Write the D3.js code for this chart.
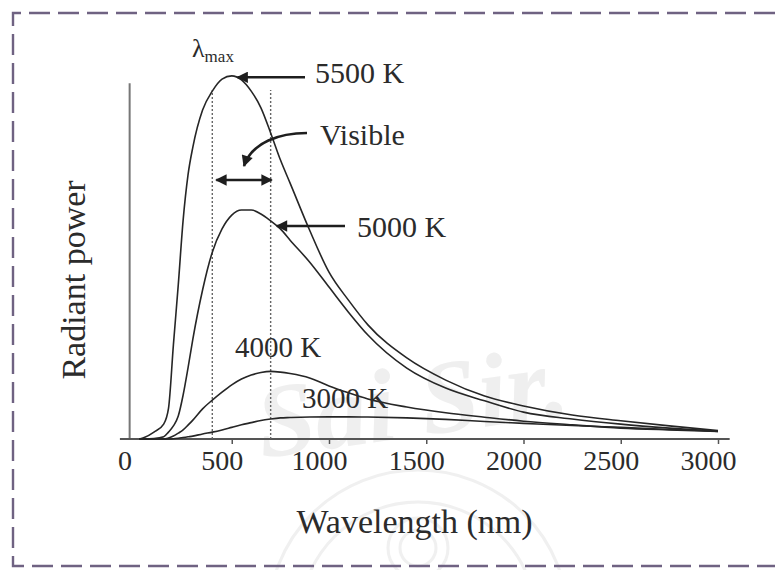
<!DOCTYPE html>
<html>
<head>
<meta charset="utf-8">
<script src="https://cdn.jsdelivr.net/npm/d3@7"></script>
<style>
  body { margin: 0; background: #fff; }
  svg text { font-family: "Liberation Serif", "Times New Roman", serif; fill: #2b2b2b; }
</style>
</head>
<body>
<div id="chart"></div>
<script>
const canvas = { w: 775, h: 570 };

// wavelength grid (nm) shared by all curves
const wavelengths = [25, 50, 100, 150, 175, 200, 225, 250, 275, 300, 350, 400, 450, 500, 550, 600,
  650, 700, 750, 800, 900, 1000, 1100, 1200, 1400, 1600, 1800, 2000, 2250, 2500, 2750, 3000];

// radiant power, arbitrary units (5500 K peak ~ 100)
const power5500 = [0, 0.4, 1.9, 4.1, 8.5, 25.9, 42.4, 60.2, 72.6, 80.3, 90.5, 95.7, 99.0, 99.9, 98.8, 95.7,
  91.1, 84.2, 76.8, 70.4, 57.5, 45.9, 38.2, 31.4, 22.3, 16.2, 11.8, 9.1, 6.6, 5.0, 3.6, 2.3];
const power5000 = [0, 0, 0.1, 0.6, 1.9, 3.6, 6.3, 12.1, 19.5, 27.5, 41.0, 51.4, 57.8, 61.6, 63.0, 63.0,
  61.9, 60.0, 57.8, 54.7, 48.7, 41.8, 34.9, 28.6, 19.5, 14.0, 10.5, 7.4, 5.5, 4.1, 3.0, 2.1];
const power4000 = [0, 0, 0, 0, 0.3, 0.8, 1.6, 2.5, 3.8, 5.2, 8.3, 10.7, 12.9, 14.9, 16.5, 17.6,
  18.3, 18.6, 18.4, 18.0, 16.8, 14.6, 12.7, 11.0, 8.8, 7.2, 6.0, 4.9, 3.9, 3.0, 2.5, 2.1];
const power3000 = [0, 0, 0, 0, 0, 0.05, 0.2, 0.4, 0.6, 0.8, 1.4, 1.9, 2.5, 3.2, 3.9, 4.5,
  5.1, 5.5, 5.8, 5.9, 6.05, 6.1, 6.1, 6.05, 5.8, 5.4, 4.8, 4.3, 3.7, 3.2, 2.6, 2.2];

const seriesNames = ["5500 K", "5000 K", "4000 K", "3000 K"];
const seriesValues = [power5500, power5000, power4000, power3000];
const xTicks = [0, 500, 1000, 1500, 2000, 2500, 3000];
const visibleBand = [400, 700];

const x = d3.scaleLinear().domain([0, 3000]).range([134.5, 718]);
const y = d3.scaleLinear().domain([0, 100]).range([439, 75.5]);

const svg = d3.select("#chart")
    .append("svg")
    .attr("width", canvas.w)
    .attr("height", canvas.h)
    .attr("viewBox", `0 0 ${canvas.w} ${canvas.h}`);

const defs = svg.append("defs");
defs.append("marker")
    .attr("id", "head")
    .attr("viewBox", "0 0 10 10")
    .attr("refX", 9).attr("refY", 5)
    .attr("markerWidth", 5).attr("markerHeight", 4.4)
    .attr("orient", "auto-start-reverse")
  .append("path")
    .attr("d", "M0,0 L10,5 L0,10 z")
    .attr("fill", "#1e1e1e");

// faint watermark
const wm = svg.append("g").attr("opacity", 0.55);
wm.append("text")
    .attr("transform", "translate(262,458) rotate(-8)")
    .attr("font-size", 104)
    .attr("font-weight", "bold")
    .attr("font-style", "italic")
    .style("fill", "#e2e2e2")
    .text("Sai Sir.");
[150, 118, 30, 18].forEach(r => {
    wm.append("circle")
        .attr("cx", 418).attr("cy", r > 50 ? 620 : 548)
        .attr("r", r)
        .attr("fill", "none")
        .attr("stroke", "#e4e4e4")
        .attr("stroke-width", 3);
});

// dashed frame
svg.append("path")
    .attr("d", "M775,13 L13,13 L13,566 L775,566")
    .attr("fill", "none")
    .attr("stroke", "#6f6282")
    .attr("stroke-width", 2.4)
    .attr("stroke-dasharray", "21,8");

// axes
svg.append("line")
    .attr("x1", x(-25)).attr("x2", x(-25))
    .attr("y1", y(0)).attr("y2", y(97.9))
    .attr("stroke", "#777").attr("stroke-width", 2);

svg.append("line")
    .attr("x1", x(-75)).attr("x2", x(3060))
    .attr("y1", y(0)).attr("y2", y(0))
    .attr("stroke", "#555").attr("stroke-width", 1.8);

const xAxis = svg.append("g")
    .attr("transform", `translate(0,${y(0)})`)
    .call(d3.axisBottom(x).tickValues(xTicks).tickSize(5).tickFormat(d3.format("d")));
xAxis.select(".domain").remove();
xAxis.selectAll(".tick line").attr("stroke", "#555").attr("stroke-width", 1.5)
    .filter(d => d === 0).remove();
xAxis.selectAll(".tick text")
    .attr("y", 31).attr("dy", 0).attr("dx", -10)
    .attr("font-size", 28)
    .attr("font-family", null)
    .style("fill", "#2b2b2b");

// visible band guides
svg.selectAll(".vis")
    .data(visibleBand)
    .join("line")
    .attr("class", "vis")
    .attr("x1", d => x(d)).attr("x2", d => x(d))
    .attr("y1", y(0)).attr("y2", y(96))
    .attr("stroke", "#666")
    .attr("stroke-width", 1.4)
    .attr("stroke-dasharray", "2,2");

// curves
const line = d3.line()
    .x((d, i) => x(wavelengths[i]))
    .y(d => y(d))
    .curve(d3.curveMonotoneX);

svg.selectAll(".curve")
    .data(seriesValues)
    .join("path")
    .attr("class", "curve")
    .attr("d", line)
    .attr("fill", "none")
    .attr("stroke", "#262626")
    .attr("stroke-width", 1.6);

// annotations
const arrows = svg.append("g")
    .attr("stroke", "#1e1e1e")
    .attr("stroke-width", 2.6)
    .attr("fill", "none");

arrows.append("line")
    .attr("x1", 305).attr("y1", y(99.5))
    .attr("x2", x(530)).attr("y2", y(99.5))
    .attr("marker-end", "url(#head)");

arrows.append("line")
    .attr("x1", 345).attr("y1", y(58.6))
    .attr("x2", x(732)).attr("y2", y(58.6))
    .attr("marker-end", "url(#head)");

arrows.append("line")
    .attr("x1", x(visibleBand[0]) + 4).attr("y1", 180)
    .attr("x2", x(visibleBand[1]) + 1).attr("y2", 180)
    .attr("marker-start", "url(#head)")
    .attr("marker-end", "url(#head)");

arrows.append("path")
    .attr("d", "M307,133 C280,133 252,142 244,166")
    .attr("marker-end", "url(#head)");

const labels = [
    { t: "5500 K", x: 315, y: 83, s: 30 },
    { t: "Visible", x: 320, y: 145, s: 30 },
    { t: "5000 K", x: 357, y: 237, s: 30 },
    { t: "4000 K", x: 235, y: 357, s: 29 },
    { t: "3000 K", x: 302, y: 408, s: 29 }
];
svg.selectAll(".lab")
    .data(labels)
    .join("text")
    .attr("class", "lab")
    .attr("x", d => d.x).attr("y", d => d.y)
    .attr("font-size", d => d.s)
    .text(d => d.t);

const lam = svg.append("text").attr("x", 192).attr("y", 57).attr("font-size", 26);
lam.append("tspan").text("λ");
lam.append("tspan").attr("font-size", 17).attr("dy", 5).text("max");

svg.append("text")
    .attr("x", 414.5).attr("y", 533)
    .attr("text-anchor", "middle")
    .attr("font-size", 34)
    .text("Wavelength (nm)");

svg.append("text")
    .attr("transform", "translate(85,280) rotate(-90)")
    .attr("text-anchor", "middle")
    .attr("font-size", 34)
    .text("Radiant power");
</script>
</body>
</html>
